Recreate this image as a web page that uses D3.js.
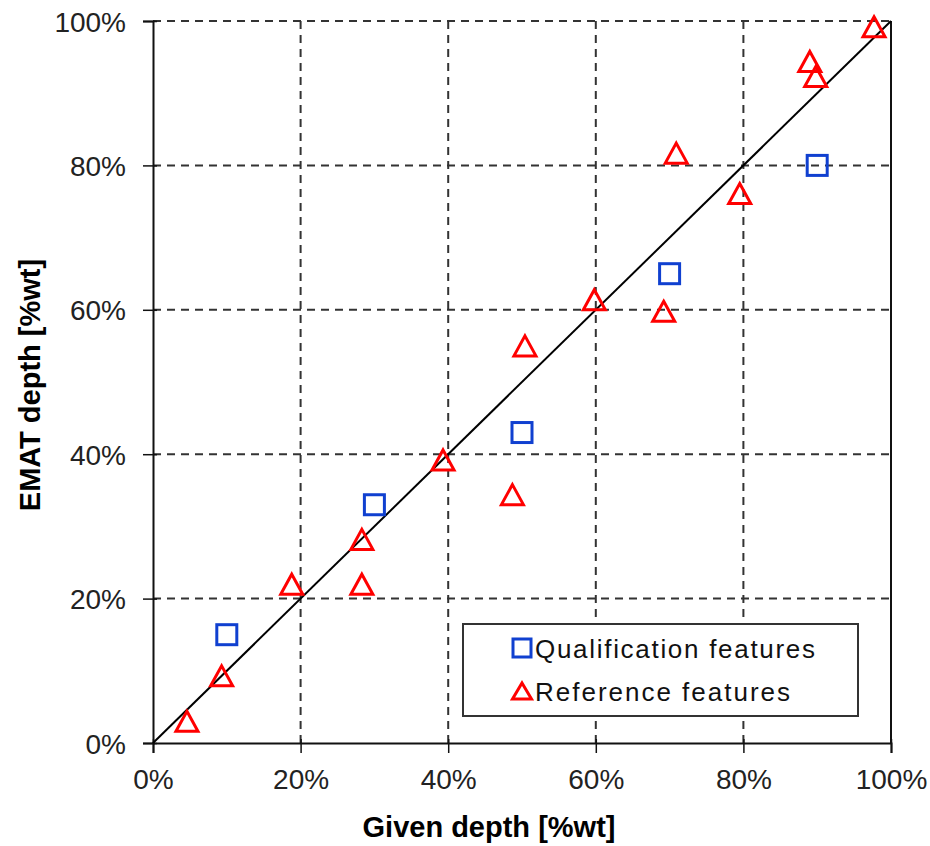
<!DOCTYPE html>
<html>
<head>
<meta charset="utf-8">
<script src="https://cdn.jsdelivr.net/npm/d3@7"></script>
<style>
  body { margin: 0; background: #fff; }
  svg text { font-family: "Liberation Sans", Arial, sans-serif; }
</style>
</head>
<body>
<div id="chart"></div>
<script>
// values in percent
let tickVals = [0, 20, 40, 60, 80, 100]
let qualX = [10, 30, 50, 70, 90]
let qualY = [15, 33, 43, 65, 80]
let refX = [4.6, 9.3, 18.8, 28.3, 28.3, 39.3, 48.7, 50.4, 59.8, 69.2, 70.9, 79.5, 89.0, 89.8, 97.7]
let refY = [3.0, 9.3, 22.0, 28.2, 22.0, 39.2, 34.4, 55.0, 61.4, 59.8, 81.7, 76.1, 94.4, 92.3, 99.2]
let seriesNames = ["Qualification features", "Reference features"]

var margin = { top: 21, right: 39, bottom: 103, left: 153 },
    width = 930 - margin.left - margin.right,
    height = 846 - margin.top - margin.bottom;

var blue = "#1040d0", red = "#ff0000"

var svg = d3.select("#chart")
    .append("svg")
    .attr("width", 930)
    .attr("height", 846)
    .append("g")
    .attr("transform", "translate(" + margin.left + "," + margin.top + ")");

var x = d3.scaleLinear().domain([0, 100]).range([0, width])
var y = d3.scaleLinear().domain([0, 100]).range([height, 0])

// dashed grid
svg.selectAll(".gx")
    .data(tickVals.slice(1, 5))
    .enter()
    .append("line")
    .attr("x1", d => x(d)).attr("x2", d => x(d))
    .attr("y1", 0).attr("y2", height)
    .attr("stroke", "#333").attr("stroke-width", 2)
    .attr("stroke-dasharray", "8,6")
svg.selectAll(".gy")
    .data(tickVals.slice(1))
    .enter()
    .append("line")
    .attr("y1", d => y(d)).attr("y2", d => y(d))
    .attr("x1", 0).attr("x2", width)
    .attr("stroke", "#333").attr("stroke-width", 2)
    .attr("stroke-dasharray", "8,6")

// right border
svg.append("line")
    .attr("x1", width).attr("x2", width)
    .attr("y1", 0).attr("y2", height)
    .attr("stroke", "#111").attr("stroke-width", 2)

// axes
var xAxis = svg.append("g")
    .attr("transform", "translate(0," + height + ")")
    .call(d3.axisBottom(x).tickValues(tickVals).tickSize(10).tickFormat(d => d + "%"))
var yAxis = svg.append("g")
    .call(d3.axisLeft(y).tickValues(tickVals).tickSize(10).tickFormat(d => d + "%"))

xAxis.select(".domain").attr("stroke", "#111").attr("stroke-width", 2)
yAxis.select(".domain").attr("stroke", "#111").attr("stroke-width", 2)
xAxis.selectAll(".tick line").attr("stroke", "#111").attr("stroke-width", 1.5).attr("y1", -4)
yAxis.selectAll(".tick line").attr("stroke", "#111").attr("stroke-width", 1.5).attr("x1", 4)
xAxis.selectAll(".tick text")
    .attr("font-size", "28px").attr("fill", "#222")
    .attr("y", 46).attr("dy", null)
yAxis.selectAll(".tick text")
    .attr("font-size", "28px").attr("fill", "#222")
    .attr("x", -27).attr("dy", "0.36em")

// diagonal
svg.append("line")
    .attr("x1", x(0)).attr("y1", y(0))
    .attr("x2", x(100)).attr("y2", y(100))
    .attr("stroke", "#000").attr("stroke-width", 2)

function triPath(w, h) {
    return "M0," + (-h / 2) + "L" + (w / 2) + "," + (h / 2) + "L" + (-w / 2) + "," + (h / 2) + "Z"
}

// markers
svg.selectAll(".qual")
    .data(qualX)
    .enter()
    .append("rect")
    .attr("x", (d, i) => x(d) - 10)
    .attr("y", (d, i) => y(qualY[i]) - 10)
    .attr("width", 20).attr("height", 20)
    .attr("fill", "none").attr("stroke", blue).attr("stroke-width", 3)

svg.selectAll(".ref")
    .data(refX)
    .enter()
    .append("path")
    .attr("d", triPath(22, 20))
    .attr("transform", (d, i) => "translate(" + x(d) + "," + y(refY[i]) + ")")
    .attr("fill", "none").attr("stroke", red).attr("stroke-width", 3)
    .attr("stroke-linejoin", "miter")

// legend
var leg = svg.append("g").attr("transform", "translate(" + (463 - margin.left) + "," + (624 - margin.top) + ")")
leg.append("rect")
    .attr("width", 395).attr("height", 92)
    .attr("fill", "#fff").attr("stroke", "#333").attr("stroke-width", 2)
leg.append("rect")
    .attr("x", 50).attr("y", 15).attr("width", 18).attr("height", 18)
    .attr("fill", "none").attr("stroke", blue).attr("stroke-width", 3)
leg.append("path")
    .attr("d", triPath(19, 16))
    .attr("transform", "translate(59,67)")
    .attr("fill", "none").attr("stroke", red).attr("stroke-width", 3)
leg.selectAll(".lt")
    .data(seriesNames)
    .enter()
    .append("text")
    .attr("x", 72)
    .attr("y", (d, i) => 34 + i * 43)
    .attr("font-size", "26px")
    .attr("fill", "#111")
    .attr("textLength", (d, i) => i == 0 ? 280 : 255)
    .text(d => d)

// axis titles
svg.append("text")
    .attr("x", 489 - margin.left)
    .attr("y", 837 - margin.top)
    .attr("text-anchor", "middle")
    .attr("font-size", "29px").attr("font-weight", "bold")
    .text("Given depth [%wt]")
svg.append("text")
    .attr("transform", "translate(" + (40 - margin.left) + "," + (385 - margin.top) + ") rotate(-90)")
    .attr("text-anchor", "middle")
    .attr("font-size", "29px").attr("font-weight", "bold")
    .text("EMAT depth [%wt]")
</script>
</body>
</html>
